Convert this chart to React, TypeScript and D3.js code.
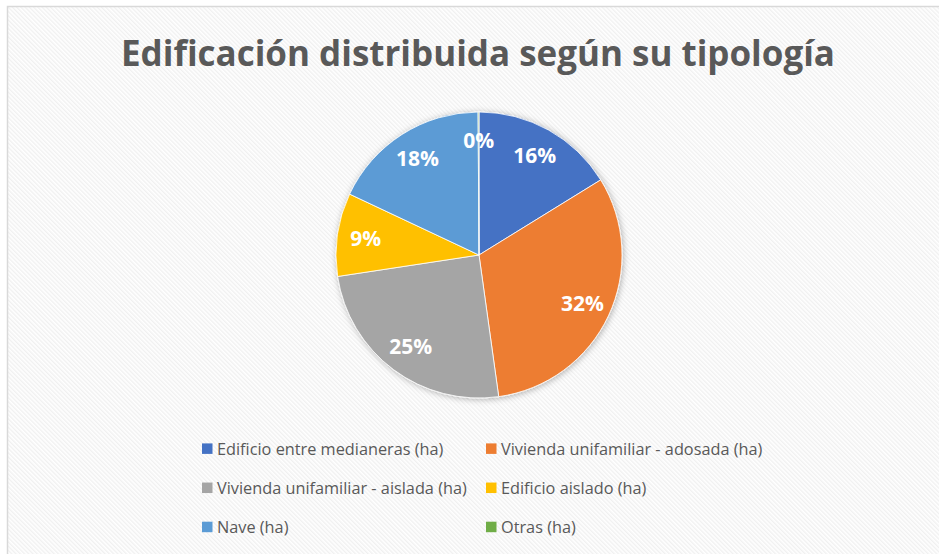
import React from "react";
import * as d3 from "d3";

const categories = [
  "Edificio entre medianeras (ha)",
  "Vivienda unifamiliar - adosada (ha)",
  "Vivienda unifamiliar - aislada (ha)",
  "Edificio aislado (ha)",
  "Nave (ha)",
  "Otras (ha)",
];
const values = [16.2, 31.6, 24.8, 9.4, 17.9, 0.1];
const colors = ["#4472C4", "#ED7D31", "#A5A5A5", "#FFC000", "#5B9BD5", "#70AD47"];
const title = "Edificación distribuida según su tipología";

const W = 939;
const H = 554;

export default function App() {
  const cx = 479;
  const cy = 255;
  const R = 143;
  const total = d3.sum(values);
  const pie = d3.pie<number>().sort(null).value((d) => d);
  const arcs = pie(values);
  const arc = d3.arc<d3.PieArcDatum<number>>().innerRadius(0).outerRadius(R);
  const labelArc = d3
    .arc<d3.PieArcDatum<number>>()
    .innerRadius(R * 0.8)
    .outerRadius(R * 0.8);

  const legX = d3.scaleOrdinal<number, number>().domain([0, 1]).range([202, 486]);
  const legY = d3.scaleLinear().domain([0, 2]).range([448.7, 527]);

  return (
    <svg
      width={W}
      height={H}
      style={{ position: "absolute", left: 0, top: 0, display: "block" }}
    >
      <defs>
        <pattern
          id="hatch"
          patternUnits="userSpaceOnUse"
          width={3}
          height={3}
          patternTransform="rotate(-45)"
        >
          <rect width={3} height={3} fill="#ffffff" />
          <rect width={1.4} height={3} fill="#f0f0f0" />
        </pattern>
        <filter id="shadow" x="-20%" y="-20%" width="140%" height="140%">
          <feDropShadow dx={1} dy={1} stdDeviation={3} floodColor="#000" floodOpacity={0.3} />
        </filter>
      </defs>
      <rect x={0} y={0} width={W} height={H} fill="#ffffff" />
      <rect x={7.5} y={6.5} width={W + 10} height={H + 10} fill="url(#hatch)" stroke="#d9d9d9" strokeWidth={1.5} />
      <text
        x={478}
        y={66}
        textAnchor="middle"
        fontFamily="'Open Sans', sans-serif"
        fontWeight={700}
        fontSize={36}
        fill="#595959"
        textLength={714}
        lengthAdjust="spacingAndGlyphs"
      >
        {title}
      </text>
      <g transform={`translate(${cx},${cy})`}>
        <g filter="url(#shadow)">
          {arcs.map((a, i) => (
            <path key={i} d={arc(a) || ""} fill={colors[i]} stroke="#ffffff" strokeWidth={0.8} />
          ))}
        </g>
        {arcs.map((a, i) => {
          const [lx, ly] = labelArc.centroid(a);
          return (
            <text
              key={i}
              x={lx}
              y={ly}
              dy="0.36em"
              textAnchor="middle"
              fontFamily="'Open Sans', sans-serif"
              fontWeight={700}
              fontSize={21}
              fill="#ffffff"
            >
              {Math.round((values[i] / total) * 100)}%
            </text>
          );
        })}
      </g>
      {categories.map((c, i) => {
        const x = legX(i % 2);
        const y = legY(Math.floor(i / 2));
        return (
          <g key={c}>
            <rect x={x} y={y - 5.3} width={10.5} height={10.5} fill={colors[i]} />
            <text
              x={x + 15}
              y={y + 5.8}
              fontFamily="'Open Sans', sans-serif"
              fontSize={16.3}
              fill="#595959"
            >
              {c}
            </text>
          </g>
        );
      })}
    </svg>
  );
}
